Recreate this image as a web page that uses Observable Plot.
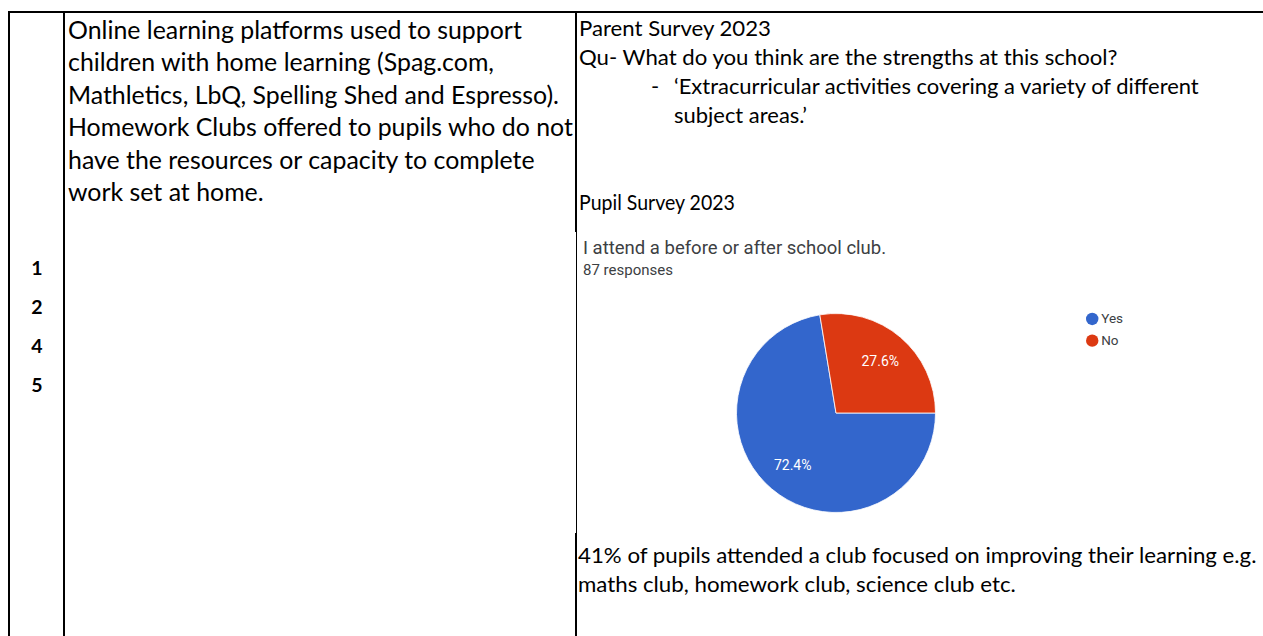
<!DOCTYPE html>
<html>
<head>
<meta charset="utf-8">
<script src="https://cdn.jsdelivr.net/npm/d3@7"></script>
<script src="https://cdn.jsdelivr.net/npm/@observablehq/plot@0.6"></script>
<style>
  html, body { margin: 0; padding: 0; background: #fff; }
  #page { position: relative; width: 1263px; height: 636px; overflow: hidden; background: #fff; }
  #doc { position: absolute; left: 0; top: 0; }
  #chart { position: absolute; left: 577px; top: 230px; }
  #chart svg { display: block; }
</style>
</head>
<body>
<div id="page">
  <svg id="doc" width="1263" height="636"></svg>
  <div id="chart"></div>
</div>
<script>
// ---------- data ----------
const answers = ["Yes", "No"];
const percentages = [72.4, 27.6];
const responses = 87;
const sliceColors = ["#3366cc", "#dc3912"];
const chartTitle = "I attend a before or after school club.";
const responsesLabel = responses + " responses";

const rowNumbers = ["1", "2", "4", "5"];
const leftCellLines = [
  "Online learning platforms used to support",
  "children with home learning (Spag.com,",
  "Mathletics, LbQ, Spelling Shed and Espresso).",
  "Homework Clubs offered to pupils who do not",
  "have the resources or capacity to complete",
  "work set at home."
];
const parentLines = [
  "Parent Survey 2023",
  "Qu- What do you think are the strengths at this school?"
];
const quoteLines = [
  "\u2018Extracurricular activities covering a variety of different",
  "subject areas.\u2019"
];
const pupilHeading = "Pupil Survey 2023";
const noteLines = [
  "41% of pupils attended a club focused on improving their learning e.g.",
  "maths club, homework club, science club etc."
];

// ---------- document (table + text) ----------
const doc = d3.select("#doc");
const docFont = "Lato, 'Noto Sans', sans-serif";

function rule(x, y, w, h) {
  doc.append("rect").attr("x", x).attr("y", y).attr("width", w).attr("height", h).attr("fill", "#000");
}
const topY = 11;
rule(8, topY, 1263, 2);
rule(8, topY, 2, 636);
rule(63, topY, 2, 636);
rule(575, topY, 2, 232 - topY);
rule(576, 232, 1, 301);
rule(575, 533, 2, 636 - 533);

// a block of lines, compressed horizontally so that a reference line gets its target width
function block(lines, x, ys, size, refIndex, refWidth, opts = {}) {
  const g = doc.append("g");
  const texts = g.selectAll("text").data(lines).join("text")
    .attr("x", 0).attr("y", (d, i) => ys[i])
    .attr("font-family", opts.family || docFont)
    .attr("font-size", size)
    .attr("font-weight", opts.weight || 400)
    .attr("fill", opts.fill || "#000")
    .attr("text-anchor", opts.anchor || "start")
    .text(d => d);
  let k = 1;
  if (refWidth) {
    const w = texts.nodes()[refIndex].getComputedTextLength();
    k = refWidth / w;
  }
  g.attr("transform", `translate(${x},0) scale(${k},1)`);
  return k;
}

block(leftCellLines, 68, [39, 71.4, 103.8, 136.2, 168.6, 201], 24.5, 0, 454);
block(parentLines, 579, [36, 65], 22, 1, 539);
block(["-"], 651, [94], 22, 0, null);
block(quoteLines, 674, [94, 123], 22, 0, 525);
block([pupilHeading], 579, [210], 22, 0, 156);
block(noteLines, 578, [563, 592], 22, 0, 679);
block(rowNumbers, 37, [275, 314, 353, 392], 19.5, 0, null, {weight: 700, anchor: "middle"});

// chart title (part of the pasted survey image)
doc.append("text").attr("x", 583).attr("y", 254)
  .attr("font-family", "Roboto, sans-serif").attr("font-size", 18.5).attr("fill", "#3c4043")
  .text(chartTitle);
doc.append("text").attr("x", 583).attr("y", 275)
  .attr("font-family", "Roboto, sans-serif").attr("font-size", 15).attr("fill", "#3c4043")
  .text(responsesLabel);

// ---------- pie chart with Observable Plot ----------
const slices = answers.map((a, i) => ({answer: a, value: percentages[i]}));
const pie = d3.pie().value(d => d.value).sort(null)
  .startAngle(Math.PI / 2).endAngle(Math.PI / 2 + 2 * Math.PI);
const arcs = pie(slices);
const labelArc = d3.arc().innerRadius(0.68).outerRadius(0.68);
const labelled = arcs.map(a => {
  const [lx, ly] = labelArc.centroid(a);
  return {answer: a.data.answer, value: a.data.value, lx, ly};
});

// layout of the chart area (pixels within the chart svg)
const W = 686, H = 300;
const cx = 836 - 577, cy = 413 - 230, R = 99.5;
const legendX = 2.57, legendY0 = -0.95, legendStep = 0.218;

function pieSlices(index, scales) {
  const x0 = scales.x(0), y0 = scales.y(0), r = scales.x(1) - scales.x(0);
  const arc = d3.arc().innerRadius(0).outerRadius(r);
  const g = d3.create("svg:g").attr("transform", `translate(${x0},${y0})`);
  g.selectAll("path").data(arcs).join("path")
    .attr("d", arc)
    .attr("fill", d => scales.color(d.data.answer))
    .attr("stroke", "#fff")
    .attr("stroke-width", 0.8);
  return g.node();
}

const chart = Plot.plot({
  width: W,
  height: H,
  margin: 0,
  x: {domain: [-1, 1], range: [cx - R, cx + R], axis: null},
  y: {domain: [-1, 1], range: [cy - R, cy + R], axis: null},
  color: {domain: answers, range: sliceColors},
  style: {background: "transparent", overflow: "visible"},
  marks: [
    pieSlices,
    Plot.text(labelled, {
      x: "lx", y: "ly",
      text: d => d.value.toFixed(1) + "%",
      fill: "#fff", fontSize: 14, fontFamily: "Roboto, sans-serif"
    }),
    Plot.dot(slices, {
      x: () => legendX, y: (d, i) => legendY0 + i * legendStep,
      r: 6.2, fill: "answer"
    }),
    Plot.text(slices, {
      x: () => legendX, y: (d, i) => legendY0 + i * legendStep,
      text: "answer", dx: 9, textAnchor: "start",
      fill: "#3c4043", fontSize: 13.5, fontFamily: "Roboto, sans-serif"
    })
  ]
});
document.getElementById("chart").appendChild(chart);
</script>
</body>
</html>
